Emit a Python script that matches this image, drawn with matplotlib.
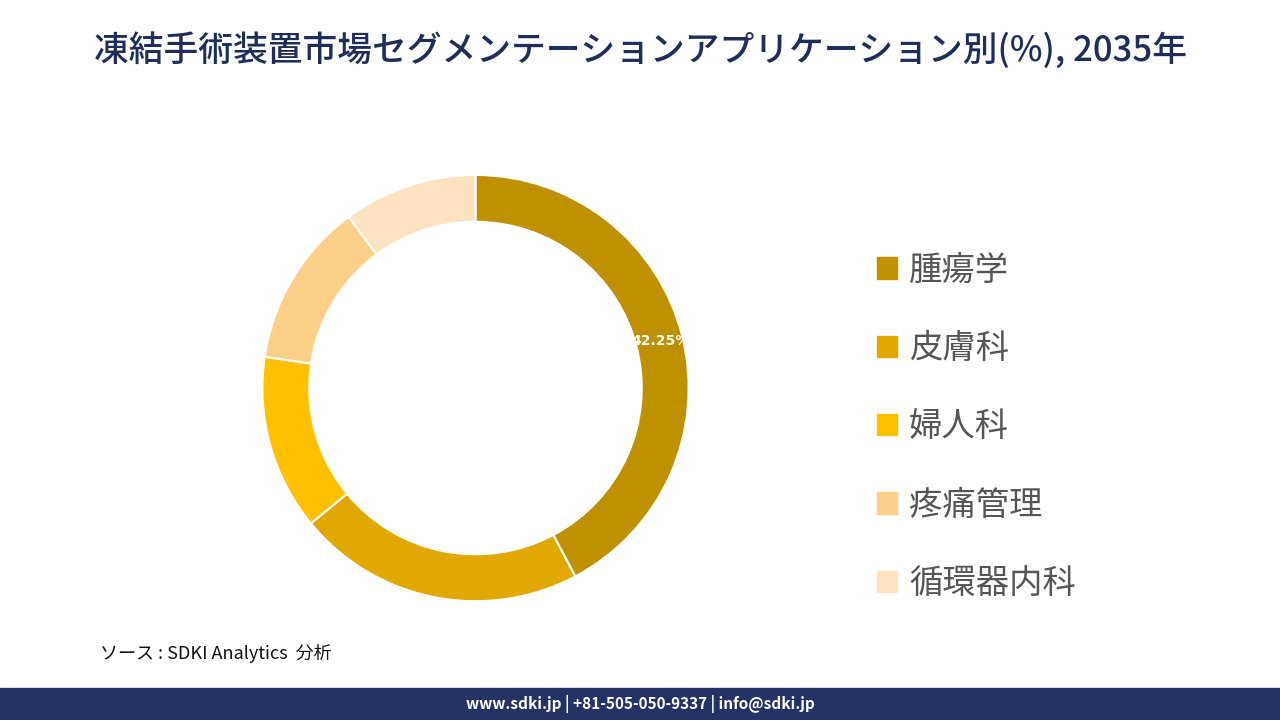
import matplotlib
matplotlib.use("Agg")
import matplotlib.pyplot as plt

categories = ["腫瘍学", "皮膚科", "婦人科", "疼痛管理", "循環器内科"]
values = [42.25, 21.8, 13.3, 12.5, 10.15]
colors = ["#BF9000", "#E0A800", "#FFC000", "#FDD08A", "#FDE3BF"]

plt.rcParams["font.family"] = "Noto Sans CJK JP"
fig = plt.figure(figsize=(12.8, 7.2), dpi=100)

fig.text(0.5, 0.93, "凍結手術装置市場セグメンテーションアプリケーション別(%), 2035年",
         ha="center", va="center", fontsize=25, color="#1F2D5A", fontweight="medium")

ax = fig.add_axes([0.205, 0.165, 0.333, 0.592])
wedges, _ = ax.pie(values, colors=colors, startangle=90, counterclock=False,
                   wedgeprops=dict(width=0.22, edgecolor="white", linewidth=1.5))
ax.set_xlim(-1, 1); ax.set_ylim(-1, 1)
ax.set_aspect("equal")
ax.text(0.87, 0.22, f"{values[0]:.2f}%", color="white", fontsize=10,
        fontweight="bold", ha="center", va="center", fontfamily="DejaVu Sans")

handles = [plt.Rectangle((0, 0), 1, 1, color=c) for c in colors]
fig.legend(handles, categories, loc="center left", bbox_to_anchor=(0.662, 0.407),
           frameon=False, fontsize=24, labelcolor="#555555", handlelength=0.6,
           handleheight=0.6, labelspacing=1.3, handletextpad=0.35)

fig.text(0.078, 0.085, "ソース : SDKI Analytics  分析", fontsize=13, style="italic",
         color="#111111")
fig.patches.append(plt.Rectangle((0, 0), 1, 0.045, transform=fig.transFigure,
                                 color="#243266", zorder=0))
fig.text(0.5, 0.022, "www.sdki.jp | +81-505-050-9337 | info@sdki.jp", ha="center",
         va="center", color="white", fontsize=11, fontweight="bold")

fig.savefig("out.png", dpi=100)
